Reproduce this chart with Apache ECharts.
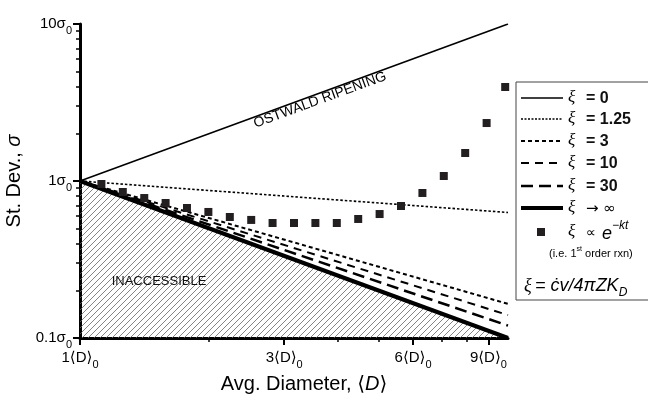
<!DOCTYPE html>
<html>
<head>
<meta charset="utf-8">
<script src="https://cdn.jsdelivr.net/npm/echarts@6/dist/echarts.min.js"></script>
<style>
  html, body { margin: 0; padding: 0; background: #fff; }
  #main { width: 648px; height: 396px; }
</style>
</head>
<body>
<div id="main"></div>
<script>
// end points of the model lines, D from 1 to 10 (log-log straight)
const lineD = [1, 10]
const sigXi0 = [1, 10]
const sigXi125 = [1, 0.63]
const sigXi3 = [1, 0.165]
const sigXi10 = [1, 0.14]
const sigXi30 = [1, 0.12]
const sigXiInf = [1, 0.1]

// first order reaction points
const rxnD = [1.122, 1.259, 1.413, 1.585, 1.778, 1.995, 2.239, 2.512, 2.818, 3.162,
  3.548, 3.981, 4.467, 5.012, 5.623, 6.31, 7.079, 7.943, 8.913, 9.85]
const rxnSigma = [0.957, 0.851, 0.779, 0.724, 0.673, 0.635, 0.59, 0.565, 0.54, 0.54,
  0.54, 0.54, 0.573, 0.616, 0.693, 0.839, 1.076, 1.508, 2.34, 3.97]

const xMajor = [1, 3, 6, 9]
const xMinor = [2, 4, 5, 7, 8]
const yMajor = [0.1, 1, 10]
const yMinor = [0.2, 0.3, 0.4, 0.5, 0.6, 0.7, 0.8, 0.9, 2, 3, 4, 5, 6, 7, 8, 9]

const FONT = '"Liberation Sans", Arial, "DejaVu Sans", sans-serif'
const pair = (ys) => lineD.map((d, i) => [d, ys[i]])

// hatch tile for the inaccessible region
const tile = document.createElement('canvas')
tile.width = 6
tile.height = 6
const tc = tile.getContext('2d')
tc.strokeStyle = '#666'
tc.lineWidth = 0.8
tc.beginPath()
tc.moveTo(0, 6); tc.lineTo(6, 0)
tc.moveTo(-1, 1); tc.lineTo(1, -1)
tc.moveTo(5, 7); tc.lineTo(7, 5)
tc.stroke()

const chart = echarts.init(document.getElementById('main'))

const lineSeries = (name, ys, width, dash) => ({
  name,
  type: 'line',
  data: pair(ys),
  showSymbol: false,
  silent: true,
  z: 3,
  lineStyle: { color: '#000', width, type: dash || 'solid' },
})

// legend rows drawn by hand
const rowY = [98, 119, 141, 163, 186, 208, 232]
const legendLines = [
  { w: 1.5, dash: null },
  { w: 1.5, dash: [2, 1.5] },
  { w: 2, dash: [4, 3] },
  { w: 2, dash: [8, 6] },
  { w: 2.5, dash: [12, 6] },
  { w: 4, dash: null },
]
const legendVals = ['= 0', '= 1.25', '= 3', '= 10', '= 30']
const graphics = [
  {
    type: 'rect', shape: { x: 516, y: 82, width: 140, height: 218 },
    style: { fill: '#fff', stroke: '#444', lineWidth: 1 }, z: 10,
  },
]
legendLines.forEach((l, i) => {
  graphics.push({
    type: 'line', shape: { x1: 521, y1: rowY[i], x2: 563, y2: rowY[i] },
    style: { stroke: '#000', lineWidth: l.w, lineDash: l.dash }, z: 11,
  })
})
for (let i = 0; i < 7; i++) {
  graphics.push({
    type: 'text', x: 568, y: rowY[i], z: 11,
    style: { text: 'ξ', font: 'italic 17px "Liberation Serif", serif', fill: '#000', verticalAlign: 'middle' },
  })
}
legendVals.forEach((t, i) => {
  graphics.push({
    type: 'text', x: 586, y: rowY[i] + 1, z: 11,
    style: { text: t, font: 'bold 16px ' + FONT, fill: '#111', verticalAlign: 'middle' },
  })
})
graphics.push(
  {
    type: 'text', x: 586, y: rowY[5] + 1, z: 11,
    style: { text: '→ ∞', font: '15px "DejaVu Sans", sans-serif', fill: '#000', verticalAlign: 'middle' },
  },
  {
    type: 'rect', shape: { x: 537, y: rowY[6] - 4, width: 8, height: 8 },
    style: { fill: '#231f20' }, z: 11,
  },
  {
    type: 'text', x: 586, y: rowY[6] + 1, z: 11,
    style: { text: '∝', font: '14px "DejaVu Sans", sans-serif', fill: '#000', verticalAlign: 'middle' },
  },
  {
    type: 'text', x: 602, y: rowY[6] + 2, z: 11,
    style: { text: 'e', font: 'italic 18px ' + FONT, fill: '#000', verticalAlign: 'middle' },
  },
  {
    type: 'text', x: 612, y: rowY[6] - 6, z: 11,
    style: { text: '−kt', font: 'italic 12px ' + FONT, fill: '#000', verticalAlign: 'middle' },
  },
  {
    type: 'text', x: 549, y: 254, z: 11,
    style: {
      text: '(i.e. 1{s|st} order rxn)',
      font: '11px ' + FONT, fill: '#000', verticalAlign: 'middle',
      rich: { s: { fontSize: 7, verticalAlign: 'top', lineHeight: 16, fontFamily: FONT } },
    },
  },
  {
    type: 'text', x: 524, y: 286, z: 11,
    style: {
      text: '{x|ξ} {t|= ċv/4πZK}{d|D}',
      verticalAlign: 'middle',
      rich: {
        x: { font: 'italic 18px "Liberation Serif", serif', lineHeight: 26, verticalAlign: 'middle' },
        t: { font: 'italic 18px ' + FONT, lineHeight: 26, verticalAlign: 'middle' },
        d: { font: 'italic 12px ' + FONT, lineHeight: 26, verticalAlign: 'bottom' },
      },
    },
  },
  {
    type: 'text', x: 320, y: 100, rotation: 20.1 * Math.PI / 180, z: 5,
    style: { text: 'OSTWALD RIPENING', font: '14px ' + FONT, fill: '#000', align: 'center', verticalAlign: 'middle' },
  },
  {
    type: 'text', x: 159, y: 281, z: 5,
    style: { text: 'INACCESSIBLE', font: '13px ' + FONT, fill: '#111', align: 'center', verticalAlign: 'middle' },
  },
)

const option = {
  animation: false,
  grid: { left: 80, right: 140, top: 24, bottom: 58, containLabel: false, outerBoundsMode: 'none' },
  xAxis: [
    {
      type: 'log', min: 1, max: 10, position: 'bottom',
      axisLine: { lineStyle: { color: '#000', width: 3 } },
      axisTick: { customValues: xMajor, length: 7, lineStyle: { color: '#000', width: 2 } },
      axisLabel: {
        customValues: xMajor, margin: 8,
        formatter: (v) => `{n|${Math.round(v)}⟨D⟩}{s|0}`,
        rich: {
          n: { fontSize: 15, fontFamily: FONT, color: '#000', lineHeight: 24, verticalAlign: 'middle' },
          s: { fontSize: 11, fontFamily: FONT, color: '#000', lineHeight: 24, verticalAlign: 'bottom' },
        },
      },
      splitLine: { show: false },
      name: '{a|Avg. Diameter, ⟨}{i|D}{a|⟩}',
      nameLocation: 'middle',
      nameGap: 34,
      nameTextStyle: {
        padding: [0, 0, 0, 20],
        rich: {
          a: { fontSize: 20, fontFamily: FONT, color: '#000' },
          i: { fontSize: 20, fontFamily: FONT, fontStyle: 'italic', color: '#000' },
        },
      },
    },
    {
      type: 'log', min: 1, max: 10, position: 'bottom', gridIndex: 0,
      axisLine: { show: false },
      axisTick: { customValues: xMinor, length: 4, lineStyle: { color: '#000', width: 1.5 } },
      axisLabel: { show: false },
      splitLine: { show: false },
    },
  ],
  yAxis: [
    {
      type: 'log', min: 0.1, max: 10, position: 'left',
      axisLine: { show: true, lineStyle: { color: '#000', width: 3 } },
      axisTick: { show: true, customValues: yMajor, length: 7, lineStyle: { color: '#000', width: 2 } },
      axisLabel: {
        customValues: yMajor, margin: 8,
        formatter: (v) => `{n|${v >= 1 ? Math.round(v) : '0.1'}σ}{s|0}`,
        rich: {
          n: { fontSize: 15, fontFamily: FONT, color: '#000', lineHeight: 24, verticalAlign: 'middle' },
          s: { fontSize: 11, fontFamily: FONT, color: '#000', lineHeight: 24, verticalAlign: 'bottom' },
        },
      },
      splitLine: { show: false },
      name: '{a|St. Dev., }{i|σ}',
      nameLocation: 'middle',
      nameRotate: 90,
      nameGap: 44,
      nameTextStyle: {
        rich: {
          a: { fontSize: 20, fontFamily: FONT, color: '#000' },
          i: { fontSize: 20, fontFamily: FONT, fontStyle: 'italic', color: '#000' },
        },
      },
    },
    {
      type: 'log', min: 0.1, max: 10, position: 'left',
      axisLine: { show: false },
      axisTick: { show: true, customValues: yMinor, length: 4, lineStyle: { color: '#000', width: 1.5 } },
      axisLabel: { show: false },
      splitLine: { show: false },
    },
  ],
  series: [
    {
      name: 'inaccessible',
      type: 'line',
      data: pair(sigXiInf),
      showSymbol: false,
      silent: true,
      z: 1,
      lineStyle: { width: 0 },
      areaStyle: { origin: 'start', color: { image: tile, repeat: 'repeat' }, opacity: 1 },
    },
    lineSeries('ξ = 0', sigXi0, 1.6),
    lineSeries('ξ = 1.25', sigXi125, 1.6, [2.5, 2]),
    lineSeries('ξ = 3', sigXi3, 2, [4, 3]),
    lineSeries('ξ = 10', sigXi10, 2, [8, 6]),
    lineSeries('ξ = 30', sigXi30, 2.5, [12, 6]),
    lineSeries('ξ → ∞', sigXiInf, 4),
    {
      name: 'ξ ∝ e^-kt',
      type: 'scatter',
      data: rxnD.map((d, i) => [d, rxnSigma[i]]),
      symbol: 'rect',
      symbolSize: 8,
      z: 4,
      itemStyle: { color: '#231f20', opacity: 1 },
    },
  ],
  graphic: graphics,
}

chart.setOption(option)
</script>
</body>
</html>
